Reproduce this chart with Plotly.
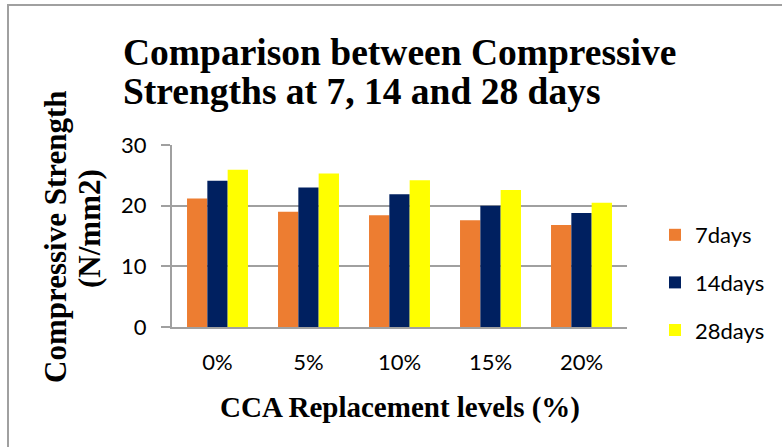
import plotly.graph_objects as go

categories = ["0%", "5%", "10%", "15%", "20%"]
days7 = [21.2, 19.0, 18.4, 17.6, 16.8]
days14 = [24.1, 23.0, 21.9, 20.0, 18.8]
days28 = [25.9, 25.3, 24.2, 22.6, 20.5]
series_names = ["7days", "14days", "28days"]
colors = ["#ED7D31", "#002060", "#FFFF00"]

W, H = 782, 447
L, R, T, B = 172, 155, 145, 120
pw = W - L - R
ph = H - T - B

def px_x(px):
    return (px - L) / pw

def px_y(py):
    return (H - B - py) / ph

fig = go.Figure()
for name, vals, col in zip(series_names, [days7, days14, days28], colors):
    fig.add_trace(go.Bar(
        x=categories, y=vals, name=name, legendgroup=name,
        marker=dict(color=col, line=dict(width=0)),
    ))

grid_col = "#a0a0a0"
fig.update_layout(
    width=W, height=H,
    margin=dict(l=L, r=R, t=T, b=B, pad=0, autoexpand=False),
    paper_bgcolor="white", plot_bgcolor="white",
    barmode="group", bargap=0.33, bargroupgap=0,
    font=dict(family="Lato", size=22, color="black"),
    legend=dict(
        x=px_x(655), xanchor="left", y=px_y(214), yanchor="top",
        font=dict(family="Lato", size=22, color="black"),
        tracegroupgap=16, traceorder="grouped",
        bgcolor="rgba(0,0,0,0)",
    ),
    showlegend=True,
)
fig.update_xaxes(
    automargin=False,
    showline=True, linecolor=grid_col, linewidth=2,
    ticks="", showgrid=False,
    ticklabelstandoff=15,
    tickfont=dict(family="Lato", size=22),
)
fig.update_yaxes(
    automargin=False,
    range=[0, 30], dtick=10, tick0=0,
    showline=True, linecolor=grid_col, linewidth=2,
    showgrid=True, gridcolor=grid_col, gridwidth=2,
    ticks="outside", ticklen=9, tickcolor=grid_col, tickwidth=2,
    ticklabelstandoff=10,
    tickfont=dict(family="Lato", size=22),
    zeroline=False,
)
# chart title (two lines)
for txt, yc in [("<b>Comparison between Compressive</b>", 52),
                ("<b>Strengths at 7, 14 and 28 days</b>", 92)]:
    fig.add_annotation(
        text=txt, xref="paper", yref="paper", x=px_x(121), y=px_y(yc),
        xanchor="left", yanchor="middle", align="left", showarrow=False,
        font=dict(family="Liberation Serif", size=37.5, color="black"),
    )
# x axis title
fig.add_annotation(
    text="<b>CCA Replacement levels (%)</b>",
    xref="paper", yref="paper", x=px_x(400), y=px_y(407),
    xanchor="center", yanchor="middle", showarrow=False,
    font=dict(family="Liberation Serif", size=29, color="black"),
)
# y axis title (two lines)
fig.add_annotation(
    text="<b>Compressive Strength</b>",
    textangle=-90, xref="paper", yref="paper",
    x=px_x(55), y=px_y(237), xanchor="center", yanchor="middle",
    showarrow=False,
    font=dict(family="Liberation Serif", size=31, color="black"),
)
fig.add_annotation(
    text="<b>(N/mm2)</b>",
    textangle=-90, xref="paper", yref="paper",
    x=px_x(89), y=px_y(229), xanchor="center", yanchor="middle",
    showarrow=False,
    font=dict(family="Liberation Serif", size=31, color="black"),
)
# outer frame (top and left edges visible)
fig.add_shape(type="line", xref="paper", yref="paper",
              x0=px_x(7), x1=px_x(782), y0=px_y(5), y1=px_y(5),
              line=dict(color=grid_col, width=2))
fig.add_shape(type="line", xref="paper", yref="paper",
              x0=px_x(8), x1=px_x(8), y0=px_y(5), y1=px_y(447),
              line=dict(color=grid_col, width=2))

fig.write_html("out.html", config={"displayModeBar": False},
               post_script="document.body.style.margin='0';document.body.style.overflow='hidden';")
